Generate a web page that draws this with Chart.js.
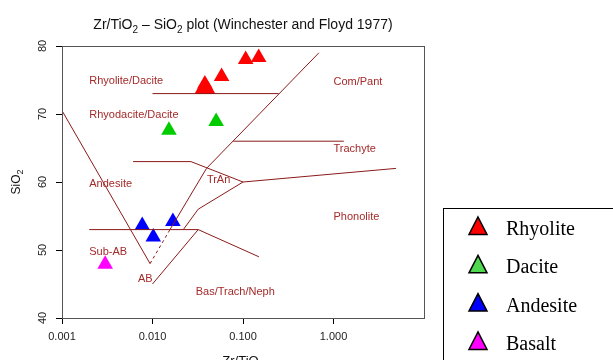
<!DOCTYPE html>
<html><head><meta charset="utf-8">
<style>html,body{margin:0;padding:0;background:#fff;}#wrap{width:613px;height:360px;position:relative;overflow:hidden;}</style>
<script src="https://cdn.jsdelivr.net/npm/chart.js@4.4.1/dist/chart.umd.min.js"></script>
</head><body><div id="wrap"><canvas id="c" width="613" height="360"></canvas></div>
<script>
// ---- data ----
const seriesNames = ['Rhyolite', 'Dacite', 'Andesite', 'Basalt'];
const rhyoliteZrTiO2 = [0.107, 0.149, 0.058, 0.0379, 0.0354, 0.0408];
const rhyoliteSiO2   = [78.0, 78.3, 75.5, 74.4, 73.6, 73.6];
const daciteZrTiO2   = [0.0152, 0.0505];
const daciteSiO2     = [67.6, 68.9];
const andesiteZrTiO2 = [0.0077, 0.0102, 0.0168];
const andesiteSiO2   = [53.6, 51.9, 54.2];
const basaltZrTiO2   = [0.0030];
const basaltSiO2     = [47.9];
const xTicks = [0.001, 0.01, 0.1, 1];
const xTickLabels = ['0.001', '0.010', '0.100', '1.000'];
const yTicks = [40, 50, 60, 70, 80];

// field boundaries [Zr/TiO2, SiO2]
const lineVLeft    = [[0.001, 70.5], [0.0094, 48]];
const lineDashed   = [[0.0094, 48], [0.0156, 53]];
const lineLong     = [[0.0156, 53], [0.0395, 62], [0.69, 79]];
const line73       = [[0.01, 73], [0.248, 73]];
const line63       = [[0.0061, 63], [0.0266, 63], [0.1, 60], [4.9, 62]];
const lineTrachyte = [[0.078, 66], [1.3, 66]];
const line53       = [[0.002, 53], [0.032, 53]];
const lineTrAnLow  = [[0.0219, 53], [0.032, 56], [0.1, 60]];
const lineBasUp    = [[0.032, 53], [0.15, 49]];
const lineBasLow   = [[0.032, 53], [0.01, 45]];

const fieldNames = ['Rhyolite/Dacite', 'Rhyodacite/Dacite', 'Andesite', 'Sub-AB', 'AB', 'TrAn', 'Com/Pant', 'Trachyte', 'Phonolite', 'Bas/Trach/Neph'];
const fieldX = [0.002, 0.002, 0.002, 0.002, 0.0069, 0.0399, 1.0, 1.0, 1.0, 0.030];
const fieldY = [74.85, 69.9, 59.7, 49.7, 45.8, 60.35, 74.7, 64.9, 54.8, 43.9];

// ---- build ----
const pts = (xs, ys) => xs.map((x, i) => ({x: x, y: ys[i]}));
const seg = arr => arr.map(p => ({x: p[0], y: p[1]}));
const plotColors = ['#ff0000', '#00cc00', '#0000ff', '#ff00ff'];
const legendColors = ['#ff0000', '#4fd94f', '#0000ff', '#ff00ff'];
const LINE = '#8b1a1a';
const FIELD = '#a52a2a';

const boundaryDatasets = [lineVLeft, lineDashed, lineLong, line73, line63, lineTrachyte, line53, lineTrAnLow, lineBasUp, lineBasLow].map((l, i) => ({
  label: 'b' + i, data: seg(l), showLine: true, pointRadius: 0, borderColor: LINE,
  borderWidth: 1, borderDash: l === lineDashed ? [3, 3] : [], fill: false, tension: 0
}));
const pointSets = [[rhyoliteZrTiO2, rhyoliteSiO2], [daciteZrTiO2, daciteSiO2], [andesiteZrTiO2, andesiteSiO2], [basaltZrTiO2, basaltSiO2]];
const pointDatasets = pointSets.map((s, i) => ({
  label: seriesNames[i], data: pts(s[0], s[1]), showLine: false, pointStyle: 'triangle',
  pointRadius: 9, pointHoverRadius: 9, pointBackgroundColor: plotColors[i], pointBorderWidth: 0,
  borderColor: plotColors[i], backgroundColor: plotColors[i]
}));

function drawRich(ctx, parts, x, y, size, align) {
  const sub = Math.round(size * 0.72);
  let w = 0;
  parts.forEach(p => { ctx.font = (p.sub ? sub : size) + 'px "Liberation Sans", Arial, sans-serif'; w += ctx.measureText(p.t).width; });
  let cx = align === 'center' ? x - w / 2 : x;
  ctx.textAlign = 'left'; ctx.textBaseline = 'alphabetic';
  parts.forEach(p => {
    ctx.font = (p.sub ? sub : size) + 'px "Liberation Sans", Arial, sans-serif';
    ctx.fillText(p.t, cx, p.sub ? y + size * 0.25 : y);
    cx += ctx.measureText(p.t).width;
  });
}

const overlay = {
  id: 'overlay',
  afterDraw(chart) {
    const ctx = chart.ctx, a = chart.chartArea, xs = chart.scales.x, ys = chart.scales.y;
    ctx.save();
    // box
    ctx.strokeStyle = '#555'; ctx.lineWidth = 1;
    ctx.strokeRect(Math.round(a.left) + 0.5, Math.round(a.top) + 0.5, Math.round(a.right - a.left), Math.round(a.bottom - a.top));
    // y tick labels (rotated)
    ctx.fillStyle = '#222'; ctx.font = '11px "Liberation Sans", Arial, sans-serif';
    yTicks.forEach(v => {
      ctx.save(); ctx.translate(43, ys.getPixelForValue(v)); ctx.rotate(-Math.PI / 2);
      ctx.textAlign = 'center'; ctx.textBaseline = 'middle'; ctx.fillText(String(v), 0, 0); ctx.restore();
    });
    // field labels
    ctx.fillStyle = FIELD; ctx.font = '11px "Liberation Sans", Arial, sans-serif';
    ctx.textAlign = 'left'; ctx.textBaseline = 'middle';
    fieldNames.forEach((n, i) => ctx.fillText(n, xs.getPixelForValue(fieldX[i]), ys.getPixelForValue(fieldY[i])));
    // subtitle
    ctx.fillStyle = '#111';
    drawRich(ctx, [{t: 'Zr/TiO'}, {t: '2', sub: true}, {t: ' \u2013 SiO'}, {t: '2', sub: true}, {t: ' plot (Winchester and Floyd 1977)'}], (a.left + a.right) / 2, 29, 14, 'center');
    // x title
    drawRich(ctx, [{t: 'Zr/TiO'}, {t: '2', sub: true}], (a.left + a.right) / 2, 365, 13, 'center');
    // y title
    ctx.save(); ctx.translate(20, (a.top + a.bottom) / 2); ctx.rotate(-Math.PI / 2);
    drawRich(ctx, [{t: 'SiO'}, {t: '2', sub: true}], 0, 0, 12, 'center'); ctx.restore();
    // legend
    const lx = 443, ly = 208;
    ctx.strokeStyle = '#000'; ctx.lineWidth = 1;
    ctx.strokeRect(lx + 0.5, ly + 0.5, 300, 300);
    const base = [235, 273.3, 311.6, 349.9];
    seriesNames.forEach((n, i) => {
      const cy = base[i] - 9;
      ctx.beginPath(); ctx.moveTo(478, cy - 9); ctx.lineTo(487, cy + 8.5); ctx.lineTo(469, cy + 8.5); ctx.closePath();
      ctx.fillStyle = legendColors[i]; ctx.fill(); ctx.lineWidth = 1.5; ctx.strokeStyle = '#000'; ctx.stroke();
      ctx.fillStyle = '#000'; ctx.font = '20px "Liberation Serif", "Times New Roman", serif';
      ctx.textAlign = 'left'; ctx.textBaseline = 'alphabetic'; ctx.fillText(n, 506, base[i]);
    });
    ctx.restore();
  }
};

new Chart(document.getElementById('c'), {
  type: 'scatter',
  data: {datasets: boundaryDatasets.concat(pointDatasets)},
  options: {
    responsive: false, animation: false, events: [],
    layout: {padding: {left: 0, right: 189, top: 46, bottom: 0}},
    plugins: {legend: {display: false}, tooltip: {enabled: false}, title: {display: false}},
    scales: {
      x: {
        type: 'logarithmic', min: 0.001, max: 10,
        afterBuildTicks: s => { s.ticks = xTicks.map(v => ({value: v})); },
        afterFit: s => { s.height = 42; },
        grid: {drawOnChartArea: false, drawTicks: true, tickLength: 6, color: '#000'},
        border: {display: true, color: '#000', width: 1},
        ticks: {autoSkip: false, maxRotation: 0, padding: 6, color: '#222',
          font: {family: '"Liberation Sans", Arial, sans-serif', size: 11},
          callback: (v) => { const i = xTicks.findIndex(t => Math.abs(t - v) < v * 1e-6); return i >= 0 ? xTickLabels[i] : ''; }}
      },
      y: {
        type: 'linear', min: 40, max: 80,
        afterBuildTicks: s => { s.ticks = yTicks.map(v => ({value: v})); },
        afterFit: s => { s.width = 62; },
        grid: {drawOnChartArea: false, drawTicks: true, tickLength: 6, color: '#000'},
        border: {display: true, color: '#000', width: 1},
        ticks: {display: false}
      }
    }
  },
  plugins: [overlay]
});
</script></body></html>
